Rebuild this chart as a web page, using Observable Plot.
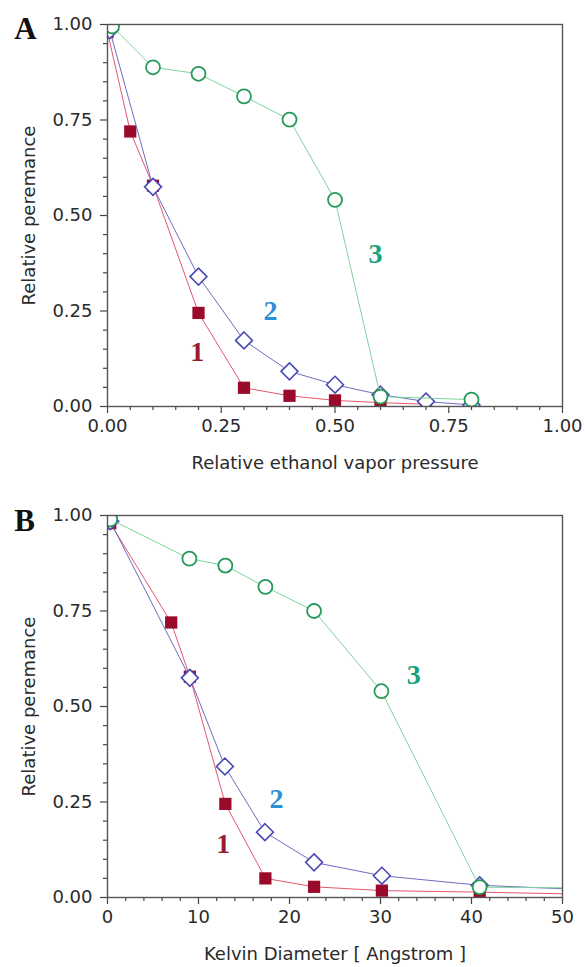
<!DOCTYPE html>
<html><head><meta charset="utf-8">
<script src="https://cdn.jsdelivr.net/npm/d3@7"></script>
<script src="https://cdn.jsdelivr.net/npm/@observablehq/plot@0.6"></script>
<style>
body{margin:0;background:#fff;}
#wrap{width:585px;height:967px;overflow:hidden;}
#wrap svg{display:block;}
</style></head><body><div id="wrap"></div>
<script>
// ---- Panel A: relative ethanol vapor pressure ----
const aX1 = [0, 0.05, 0.1, 0.2, 0.3, 0.4, 0.5, 0.6, 0.7];
const aY1 = [0.98, 0.72, 0.578, 0.245, 0.049, 0.028, 0.016, 0.01, 0.006];
const aX2 = [0.005, 0.1, 0.2, 0.3, 0.4, 0.5, 0.6, 0.7, 0.8];
const aY2 = [0.985, 0.575, 0.34, 0.173, 0.092, 0.057, 0.031, 0.013, 0.004];
const aX3 = [0.01, 0.1, 0.2, 0.3, 0.4, 0.5, 0.6, 0.8];
const aY3 = [0.995, 0.888, 0.871, 0.812, 0.751, 0.541, 0.026, 0.018];
const aMajorX = [0, 0.25, 0.5, 0.75, 1.0];
const aMinorX = [0.05, 0.1, 0.15, 0.2, 0.3, 0.35, 0.4, 0.45, 0.55, 0.6, 0.65, 0.7, 0.8, 0.85, 0.9, 0.95];
const aLabelX = [0.197, 0.358, 0.589];
const aLabelY = [0.142, 0.249, 0.40];

// ---- Panel B: Kelvin diameter ----
const bX1 = [0.3, 7.0, 9.05, 12.95, 17.35, 22.7, 30.15, 40.9, 58];
const bY1 = [0.98, 0.72, 0.578, 0.245, 0.05, 0.028, 0.018, 0.014, 0.006];
const bX2 = [0.3, 9.05, 12.9, 17.3, 22.7, 30.15, 40.9, 58, 93];
const bY2 = [0.985, 0.575, 0.343, 0.171, 0.092, 0.057, 0.032, 0.015, 0.004];
const bX3 = [0.3, 9.0, 12.95, 17.35, 22.7, 30.1, 40.9, 93];
const bY3 = [0.99, 0.887, 0.869, 0.813, 0.75, 0.54, 0.027, 0.018];
const bMajorX = [0, 10, 20, 30, 40, 50];
const bMinorX = [2, 4, 6, 8, 12, 14, 16, 18, 22, 24, 26, 28, 32, 34, 36, 38, 42, 44, 46, 48];
const bLabelX = [12.71, 18.57, 33.66];
const bLabelY = [0.14, 0.258, 0.582];

// ---- shared ----
const yMajor = [0, 0.25, 0.5, 0.75, 1.0];
const yMinor = [0.05, 0.1, 0.15, 0.2, 0.3, 0.35, 0.4, 0.45, 0.55, 0.6, 0.65, 0.7, 0.8, 0.85, 0.9, 0.95];
const seriesNames = ["1", "2", "3"];
const yLabel = "Relative peremance";

const lineColors = ["#e3566e", "#6d6dc2", "#7fd29c"];
const markColors = ["#9a0a2a", "#4a4ab4", "#27995a"];
const labelColors = ["#9a1a30", "#2a8fd6", "#17a37e"];

function zip(xs, ys) { return xs.map((x, i) => ({x, y: ys[i]})); }

function panel({xs, ys, xDomain, majorX, minorX, xFormat, xLabel, xLabelOffset, labelX, labelY, letter, height, marginTop, marginBottom, letterDx, letterDy}) {
  const d = xs.map((x, i) => zip(x, ys[i]));
  const labels = seriesNames.map((s, i) => ({x: labelX[i], y: labelY[i], s, c: labelColors[i]}));
  return Plot.plot({
    width: 585, height, marginLeft: 107, marginRight: 23, marginTop, marginBottom,
    style: {fontFamily: "'DejaVu Sans', sans-serif", fontSize: "18px", color: "#333", background: "#fff", overflow: "visible"},
    x: {domain: xDomain},
    y: {domain: [0, 1]},
    marks: [
      Plot.axisX({ticks: minorX, tickSize: 4, tickFormat: () => "", label: null, stroke: "#444", strokeWidth: 1.2}),
      Plot.axisX({ticks: majorX, tickSize: 7, tickPadding: 6, tickFormat: xFormat, stroke: "#444", strokeWidth: 1.2, fill: "#2a2a2a",
        label: xLabel, labelAnchor: "center", labelOffset: xLabelOffset, labelArrow: "none"}),
      Plot.axisY({ticks: yMinor, tickSize: 4, tickFormat: () => "", label: null, stroke: "#444", strokeWidth: 1.2}),
      Plot.axisY({ticks: yMajor, tickSize: 7, tickPadding: 8, tickFormat: d3.format(".2f"), stroke: "#444", strokeWidth: 1.2, fill: "#2a2a2a",
        label: yLabel, labelAnchor: "center", labelOffset: 85, labelArrow: "none"}),
      // series 1
      Plot.line(d[0], {x: "x", y: "y", stroke: lineColors[0], strokeWidth: 1, clip: true}),
      Plot.dot(d[0], {x: "x", y: "y", symbol: "square", r: 6.9, fill: markColors[0], stroke: "none", clip: true}),
      // series 2
      Plot.line(d[1], {x: "x", y: "y", stroke: lineColors[1], strokeWidth: 1, clip: true}),
      Plot.dot(d[1], {x: "x", y: "y", symbol: "diamond2", r: 7.6, fill: "#fff", stroke: markColors[1], strokeWidth: 1.6, clip: true}),
      // series 3
      Plot.line(d[2], {x: "x", y: "y", stroke: lineColors[2], strokeWidth: 1, clip: true}),
      Plot.dot(d[2], {x: "x", y: "y", symbol: "circle", r: 7, fill: "#fff", stroke: markColors[2], strokeWidth: 1.8, clip: true}),
      Plot.frame({stroke: "#555", strokeWidth: 1.4}),
      Plot.text(labels, {x: "x", y: "y", text: "s", fill: "c", fontFamily: "'Liberation Serif', serif", fontWeight: "bold", fontSize: 28, lineAnchor: "middle"}),
      Plot.text([letter], {frameAnchor: "top-left", dx: letterDx, dy: letterDy, text: d => d, textAnchor: "middle", lineAnchor: "middle",
        fontFamily: "'Liberation Serif', serif", fontWeight: "bold", fontSize: 31, fill: "#111"})
    ]
  });
}

const wrap = document.getElementById("wrap");
wrap.append(panel({
  xs: [aX1, aX2, aX3], ys: [aY1, aY2, aY3], xDomain: [0, 1], majorX: aMajorX, minorX: aMinorX,
  xFormat: d3.format(".2f"), xLabel: "Relative ethanol vapor pressure", xLabelOffset: 62, labelX: aLabelX, labelY: aLabelY,
  letter: "A", height: 483, marginTop: 24, marginBottom: 77, letterDx: -82, letterDy: 5
}));
wrap.append(panel({
  xs: [bX1, bX2, bX3], ys: [bY1, bY2, bY3], xDomain: [0, 50], majorX: bMajorX, minorX: bMinorX,
  xFormat: d3.format("d"), xLabel: "Kelvin Diameter [ Angstrom ]", xLabelOffset: 62, labelX: bLabelX, labelY: bLabelY,
  letter: "B", height: 484, marginTop: 32, marginBottom: 70, letterDx: -83, letterDy: 5.5
}));
</script></body></html>
